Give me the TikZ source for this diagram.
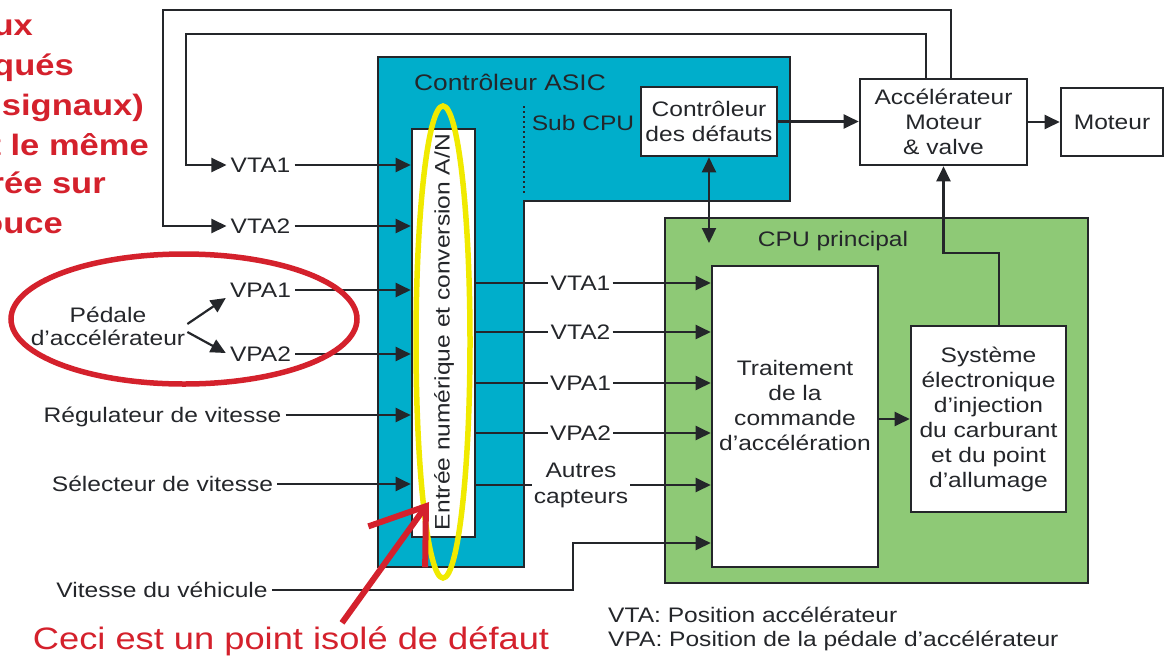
\documentclass[tikz,border=0pt]{standalone}
\usepackage{fontspec}
\setmainfont{Liberation Sans}[FakeStretch=1.17]
\usetikzlibrary{arrows.meta}

\definecolor{ink}{RGB}{36,38,42}
\definecolor{asicblue}{RGB}{0,174,203}
\definecolor{cpugreen}{RGB}{142,201,118}
\definecolor{alertred}{RGB}{212,33,44}
\definecolor{markyellow}{RGB}{240,234,0}

\newcommand{\diagfont}{\fontsize{21}{25}\selectfont}
\newcommand{\titlefont}{\fontsize{22.5}{26}\selectfont}
\newcommand{\alertfont}{\fontsize{31}{36}\selectfont}
\newcommand{\warnfont}{\fontsize{29.5}{34}\selectfont\bfseries}

\begin{document}
\begin{tikzpicture}[
		x=1pt, y=-1pt,
		>={Triangle[length=15pt,width=14pt]},
		box/.style   ={rectangle,draw=ink,line width=2.6pt,fill=white,inner sep=0pt,align=center,font=\diagfont,text=ink},
		lbl/.style   ={inner sep=4pt,font=\diagfont,text=ink,text height=15pt,text depth=0pt},
		sig/.style   ={inner sep=2pt,font=\diagfont,text=ink,align=center},
		redtxt/.style={inner sep=0pt,anchor=base east,text=alertred,font=\warnfont},
		asic/.style  ={draw=ink,line width=2.6pt,fill=asicblue},
		wire/.style  ={draw=ink,line width=2.2pt},
		link/.style  ={wire,->},
		alert/.style ={draw=alertred,line width=5.5pt}
		]

		\useasboundingbox (0,0) rectangle (1166,662);
		\clip (0,0) rectangle (1166,662);

		% =====================================================
		% ASIC controller (L-shaped) | main CPU block
		% =====================================================

		% ---- background blocks ----
		\draw[asic] (378,57) -- (790,57) -- (790,201) -- (524,201)
			-- (524,567) -- (378,567) -- cycle;
		\node[box,fill=cpugreen,minimum width=423pt,minimum height=365pt] (cpu) at (876.5,400.5) {};

		\node[lbl,font=\titlefont] (asictitle) at (510,83) {Contrôleur ASIC};
		\node[lbl] (subcpu)   at (583,123) {Sub CPU};
		\node[lbl] (cputitle) at (833,239) {CPU principal};

		% sub CPU divider
		\draw[ink,line width=1.6pt,dash pattern=on 1.6pt off 3.4pt] (524,106) -- (524,193);

		% ---- A/N input block ----
		\node[box,minimum width=63pt,minimum height=408pt] (ad) at (443.5,333) {};
		\node[rotate=90,font=\diagfont,text=ink] (adtext) at (444,332)
			{Entrée numérique et conversion A/N};

		% ---- function boxes ----
		\node[box,minimum width=136pt,minimum height=69pt] (fault) at (709,121.5) {Contrôleur\\des défauts};
		\node[box,minimum width=167pt,minimum height=86pt] (acc)   at (943.5,122) {Accélérateur\\Moteur\\\& valve};
		\node[box,minimum width=102pt,minimum height=68pt] (motor) at (1112,122)  {Moteur};
		\node[box,minimum width=166pt,minimum height=301pt] (proc) at (795,416.5) {};
		\node[sig] (proctext) at (795,405) {Traitement\\de la\\commande\\d’accélération};
		\node[box,minimum width=155pt,minimum height=186pt] (sys)  at (988.5,419)
			{Système\\électronique\\d’injection\\du carburant\\et du point\\d’allumage};

		% ---- sensor inputs (left) ----
		\node[lbl] (lvta1)   at (260.5,165) {VTA1};
		\node[lbl] (lvta2)   at (260.5,226) {VTA2};
		\node[lbl] (lvpa1)   at (260.5,290) {VPA1};
		\node[lbl] (lvpa2)   at (260.5,354) {VPA2};
		\node[lbl] (lcruise) at (162.5,415) {Régulateur de vitesse};
		\node[lbl] (lshift)  at (162.5,484) {Sélecteur de vitesse};
		\node[lbl] (lspeed)  at (162,590)   {Vitesse du véhicule};
		\node[sig,font={\fontsize{21}{23}\selectfont}] (pedal) at (108,326) {Pédale\\d’accélérateur};

		% ---- converted signals (right) ----
		\node[sig] (rvta1) at (580.5,283) {VTA1};
		\node[sig] (rvta2) at (580.5,332) {VTA2};
		\node[sig] (rvpa1) at (580.5,383) {VPA1};
		\node[sig] (rvpa2) at (580.5,433) {VPA2};
		\node[sig,font={\fontsize{21}{26}\selectfont}] (rother) at (581,485) {Autres\\capteurs};

		% ---- notes ----
		\node[redtxt] (warn1) at (33,35)   {ux};
		\node[redtxt] (warn2) at (74,75)   {qués};
		\node[redtxt] (warn3) at (144,115) {signaux)};
		\node[redtxt] (warn4) at (149,155) {t le même};
		\node[redtxt] (warn5) at (106,193) {rée sur};
		\node[redtxt] (warn6) at (63,233)  {ouce};
		\node[text=alertred,font=\alertfont] (isolated) at (291,641) {Ceci est un point isolé de défaut};
		\node[sig,anchor=west,align=left,inner sep=0pt,font={\fontsize{21}{24}\selectfont}] (legend) at (608,629)
			{VTA: Position accélérateur\\VPA: Position de la pédale d’accélérateur};

		% ---- helper coordinates ----
		\coordinate (fbinner) at (186,34);
		\coordinate (fbouter) at (163,10);
		\coordinate (spdbend) at (573,543);
		\coordinate (sysbend) at (999,253);
		\coordinate (faultend) at (709,243);
		\coordinate (isotip) at (429,502);

		% ---- throttle feedback -> VTA1, VTA2 ----
		\draw[link] ([xshift=-17.5pt]acc.north) |- (fbinner) |- (lvta1.west);
		\draw[link] ([xshift=7.5pt]acc.north)   |- (fbouter) |- (lvta2.west);

		% ---- pedal -> VPA1, VPA2 ----
		\draw[link] ([yshift=2pt]pedal.east)  -- ([yshift=-8pt]lvpa1.west);
		\draw[link] ([yshift=-6pt]pedal.east) -- ([yshift=1pt]lvpa2.west);

		% ---- inputs -> A/N ----
		\draw[link] (lvta1.east)   -- (lvta1.east -| ad.west);
		\draw[link] (lvta2.east)   -- (lvta2.east -| ad.west);
		\draw[link] (lvpa1.east)   -- (lvpa1.east -| ad.west);
		\draw[link] (lvpa2.east)   -- (lvpa2.east -| ad.west);
		\draw[link] (lcruise.east) -- (lcruise.east -| ad.west);
		\draw[link] (lshift.east)  -- (lshift.east -| ad.west);

		% ---- A/N -> main CPU ----
		\draw[wire] (rvta1.west -| ad.east)  -- (rvta1.west);
		\draw[wire] (rvta2.west -| ad.east)  -- (rvta2.west);
		\draw[wire] (rvpa1.west -| ad.east)  -- (rvpa1.west);
		\draw[wire] (rvpa2.west -| ad.east)  -- (rvpa2.west);
		\draw[wire] (rother.west -| ad.east) -- (rother.west);
		\draw[link] (rvta1.east)  -- (rvta1.east -| proc.west);
		\draw[link] (rvta2.east)  -- (rvta2.east -| proc.west);
		\draw[link] (rvpa1.east)  -- (rvpa1.east -| proc.west);
		\draw[link] (rvpa2.east)  -- (rvpa2.east -| proc.west);
		\draw[link] (rother.east) -- (rother.east -| proc.west);
		\draw[link] (lspeed.east) -| (spdbend) -- (spdbend -| proc.west);

		% ---- controller / actuator chain ----
		\draw[link] (fault.east) -- (fault.east -| acc.west);
		\draw[link] (acc.east) -- (motor.west);
		\draw[wire,<->] (fault.south) -- (faultend);
		\draw[link] (proc.east |- sys.west) -- (sys.west);
		\draw[link] ([xshift=10.5pt]sys.north) -- (sysbend) -| (acc.south);

		% ---- highlights ----
		\draw[alert] (184,319) ellipse [x radius=173, y radius=65];
		\draw[draw=markyellow,line width=5.5pt] (443,342) ellipse [x radius=27, y radius=236];
		\draw[alert,line width=6pt,-{Straight Barb[length=50pt,width=70pt]}] ([xshift=51pt]isolated.north) -- (isotip);

	\end{tikzpicture}
\end{document}
